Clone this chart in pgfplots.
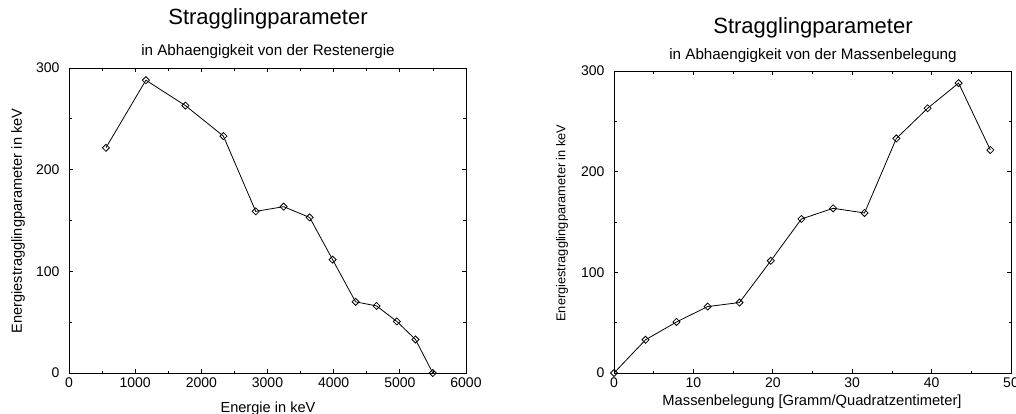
\documentclass[border=0pt]{standalone}
\usepackage{fontspec}
\setmainfont{Liberation Sans}
\usepackage{pgfplots}
\pgfplotsset{compat=1.18}
\begin{document}
\begin{tikzpicture}[x=1pt,y=1pt]
\pgfplotsset{
  strag/.style={
    scale only axis,
    anchor=south west,
    axis line style={line width=0.9pt},
    tick style={line width=0.8pt,black},
    major tick length=4pt,
    minor tick length=2.5pt,
    tick align=inside,
    minor tick num=1,
    ymin=0, ymax=300,
    ytick={0,100,200,300},
    tick label style={font=\fontsize{14pt}{15pt}\selectfont},
    yticklabel style={xshift=-6pt},
    xticklabel style={yshift=-1pt},
    /pgf/number format/assume math mode=true,
    /pgf/number format/1000 sep={},
  },
  dia/.style={black, line width=0.8pt, mark=square, mark size=2.5pt,
    mark options={solid, line width=0.8pt, rotate=45}},
}
\begin{axis}[strag, at={(69pt,40pt)}, width=397pt, height=305pt,
  xmin=0, xmax=6000, xtick={0,1000,...,6000}]
\addplot[dia] coordinates {
(558,221.5) (1162,288) (1760,263) (2334,233) (2822,159) (3244,163.6)
(3637,153) (3984,111.5) (4331,70) (4648,66) (4955,50.7) (5236,33) (5498,0)
};
\end{axis}
\begin{axis}[strag, at={(614pt,40pt)}, width=397pt, height=302pt,
  xmin=0, xmax=50, xtick={0,10,...,50}]
\addplot[dia] coordinates {
(0,0) (3.97,33) (7.87,50.7) (11.8,66) (15.8,70) (19.75,111.5) (23.6,153)
(27.6,163.6) (31.55,159) (35.56,233) (39.5,263) (43.4,288) (47.4,221.5)
};
\end{axis}
% titles and labels
\node[font=\fontsize{22pt}{24pt}\selectfont] at (268,394) {Stragglingparameter};
\node[font=\fontsize{15.2pt}{17pt}\selectfont] at (268,361) {in Abhaengigkeit von der Restenergie};
\node[font=\fontsize{14.6pt}{16pt}\selectfont, anchor=base] at (268,1) {Energie in keV};
\node[font=\fontsize{14.6pt}{16pt}\selectfont, rotate=90] at (18,192) {Energiestragglingparameter in keV};
\node[font=\fontsize{22pt}{24pt}\selectfont] at (813,385) {Stragglingparameter};
\node[font=\fontsize{15.2pt}{17pt}\selectfont] at (813,357) {in Abhaengigkeit von der Massenbelegung};
\node[font=\fontsize{14.7pt}{16pt}\selectfont, anchor=base] at (812,8) {Massenbelegung [Gramm/Quadratzentimeter]};
\node[font=\fontsize{12.8pt}{14pt}\selectfont, rotate=90] at (562,190) {Energiestragglingparameter in keV};
\pgfresetboundingbox
\path[use as bounding box] (0,0) rectangle (1016,413);
\end{tikzpicture}
\end{document}
